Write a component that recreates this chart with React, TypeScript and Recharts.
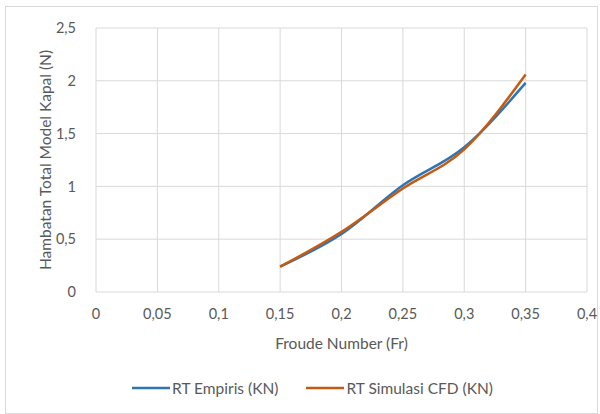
import React from 'react';
import { LineChart, Line, XAxis, YAxis, CartesianGrid, Legend, Label } from 'recharts';

const froude = [0.15, 0.2, 0.25, 0.3, 0.35];
const rtEmpiris = [0.24, 0.55, 1.01, 1.37, 1.98];
const rtCfd = [0.24, 0.57, 0.98, 1.35, 2.06];
const xTicks = [0, 0.05, 0.1, 0.15, 0.2, 0.25, 0.3, 0.35, 0.4];
const yTicks = [0, 0.5, 1, 1.5, 2, 2.5];

const data = froude.map((fr, i) => ({ fr, empiris: rtEmpiris[i], cfd: rtCfd[i] }));

const comma = (v: number) => String(v).replace('.', ',');
const font = 'Lato, "Open Sans", sans-serif';
const tickStyle = { fill: '#595959', fontSize: 14.5, fontFamily: font };

function LegendContent() {
  const items = [
    { label: 'RT Empiris (KN)', color: '#2e75b6' },
    { label: 'RT Simulasi CFD (KN)', color: '#c55a11' },
  ];
  return (
    <div style={{ display: 'flex', justifyContent: 'center', gap: 28, paddingLeft: 38, fontFamily: font, fontSize: 15.5, color: '#595959' }}>
      {items.map((it) => (
        <div key={it.label} style={{ display: 'flex', alignItems: 'center' }}>
          <svg width={38} height={10}>
            <line x1={0} y1={5} x2={38} y2={5} stroke={it.color} strokeWidth={2.5} />
          </svg>
          <span style={{ marginLeft: 2 }}>{it.label}</span>
        </div>
      ))}
    </div>
  );
}

export default function App() {
  return (
    <div style={{ position: 'absolute', left: 0, top: 0, width: 600, height: 414, background: '#fff' }}>
      <div style={{ position: 'absolute', left: 5, top: 6, width: 591, height: 406, border: '1px solid #d9d9d9' }} />
      <LineChart width={600} height={414} data={data} margin={{ top: 28, right: 13, bottom: 52, left: 0 }}>
        <CartesianGrid stroke="#d9d9d9" strokeWidth={1} />
        <XAxis
          dataKey="fr"
          type="number"
          domain={[0, 0.4]}
          ticks={xTicks}
          tickFormatter={comma}
          axisLine={false}
          tickLine={false}
          tick={tickStyle}
          tickMargin={11}
          height={40}
        >
          <Label value="Froude Number (Fr)" position="insideBottom" offset={-17} style={{ fill: '#595959', fontSize: 15.5, fontFamily: font }} />
        </XAxis>
        <YAxis
          type="number"
          domain={[0, 2.5]}
          ticks={yTicks}
          tickFormatter={comma}
          axisLine={false}
          tickLine={false}
          tick={tickStyle}
          tickMargin={14}
          width={96}
        >
          <Label value="Hambatan Total Model Kapal (N)" angle={-90} position="insideLeft" offset={45} style={{ textAnchor: 'middle', fill: '#595959', fontSize: 15.5, fontFamily: font }} />
        </YAxis>
        <Legend verticalAlign="bottom" height={30} wrapperStyle={{ top: 379, bottom: 'auto' }} content={<LegendContent />} />
        <Line type="monotone" dataKey="empiris" stroke="#2e75b6" strokeWidth={2.5} dot={false} isAnimationActive={false} />
        <Line type="monotone" dataKey="cfd" stroke="#c55a11" strokeWidth={2.5} dot={false} isAnimationActive={false} />
      </LineChart>
    </div>
  );
}
